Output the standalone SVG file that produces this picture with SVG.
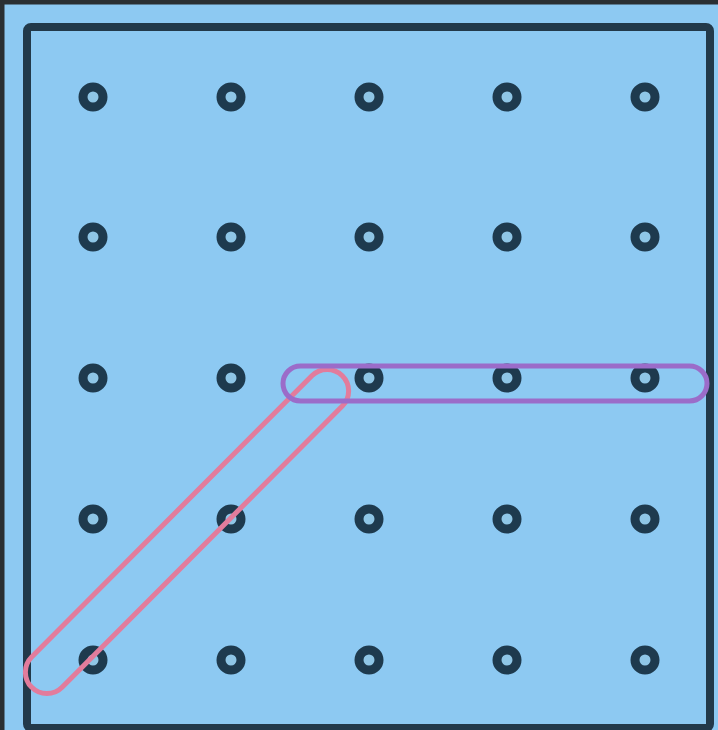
<svg xmlns="http://www.w3.org/2000/svg" width="718" height="730" viewBox="0 0 718 730">
  <defs>
    <style>
      .peg { fill: #8fc6e6; stroke: #1e3a4e; stroke-width: 9; }
      .band { fill: none; stroke-width: 5; }
    </style>
  </defs>
  <rect x="0" y="0" width="718" height="730" fill="#8dc9f2"/>
  <g id="board">
    <rect x="2" y="2" width="740" height="760" fill="none" stroke="#2a2f33" stroke-width="5"/>
    <rect x="27" y="27" width="683" height="701" rx="4" fill="#8dc9f2" stroke="#22394a" stroke-width="8"/>
  </g>
  <g id="pegs">
    <circle class="peg" cx="93" cy="97" r="10"/>
    <circle class="peg" cx="231" cy="97" r="10"/>
    <circle class="peg" cx="369" cy="97" r="10"/>
    <circle class="peg" cx="507" cy="97" r="10"/>
    <circle class="peg" cx="645" cy="97" r="10"/>
    <circle class="peg" cx="93" cy="237" r="10"/>
    <circle class="peg" cx="231" cy="237" r="10"/>
    <circle class="peg" cx="369" cy="237" r="10"/>
    <circle class="peg" cx="507" cy="237" r="10"/>
    <circle class="peg" cx="645" cy="237" r="10"/>
    <circle class="peg" cx="93" cy="378" r="10"/>
    <circle class="peg" cx="231" cy="378" r="10"/>
    <circle class="peg" cx="369" cy="378" r="10"/>
    <circle class="peg" cx="507" cy="378" r="10"/>
    <circle class="peg" cx="645" cy="378" r="10"/>
    <circle class="peg" cx="93" cy="519" r="10"/>
    <circle class="peg" cx="231" cy="519" r="10"/>
    <circle class="peg" cx="369" cy="519" r="10"/>
    <circle class="peg" cx="507" cy="519" r="10"/>
    <circle class="peg" cx="645" cy="519" r="10"/>
    <circle class="peg" cx="93" cy="660" r="10"/>
    <circle class="peg" cx="231" cy="660" r="10"/>
    <circle class="peg" cx="369" cy="660" r="10"/>
    <circle class="peg" cx="507" cy="660" r="10"/>
    <circle class="peg" cx="645" cy="660" r="10"/>
  </g>
  <g id="bands">
    <rect id="pink-band" class="band" stroke="#e27c9c" x="-220" y="-21.5" width="440" height="43" rx="21.5" transform="translate(187 531.5) rotate(-45.1)"/>
    <rect id="purple-band" class="band" stroke="#9b6cc9" x="283" y="366" width="424" height="35" rx="17.5"/>
  </g>
</svg>
